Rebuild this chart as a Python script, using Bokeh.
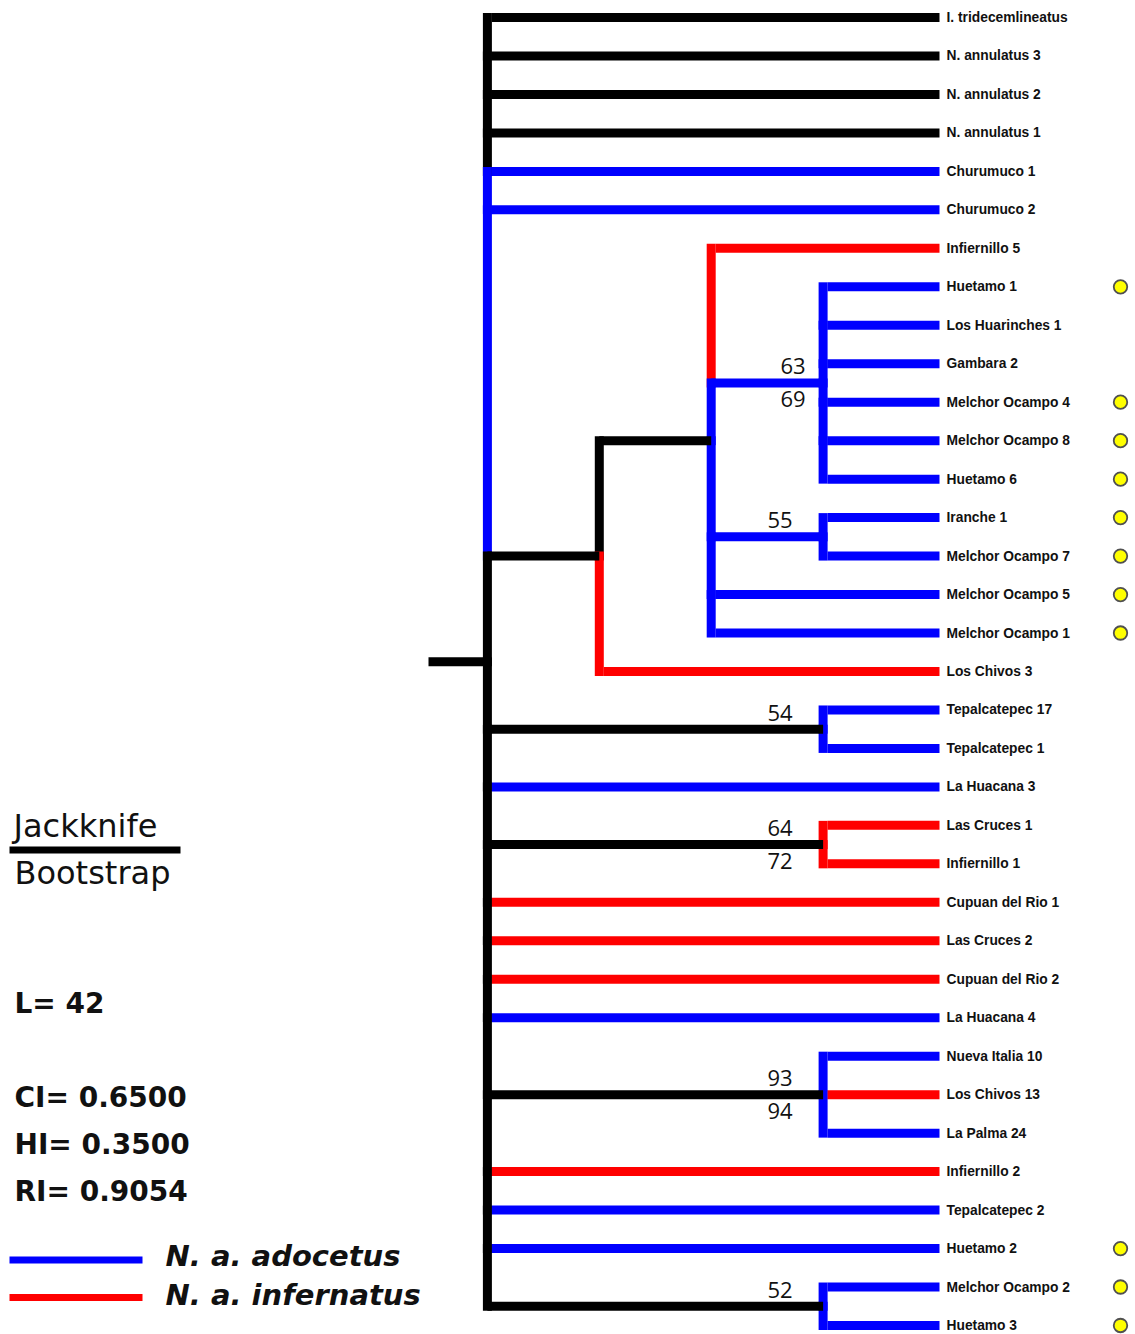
from bokeh.plotting import figure
from bokeh.models import ColumnDataSource, Range1d
from bokeh.core.properties import value
from bokeh.embed import file_html
from bokeh.resources import INLINE

# ---------------- data ----------------
leaf_names = [
    "I. tridecemlineatus", "N. annulatus 3", "N. annulatus 2", "N. annulatus 1",
    "Churumuco 1", "Churumuco 2", "Infiernillo 5", "Huetamo 1", "Los Huarinches 1",
    "Gambara 2", "Melchor Ocampo 4", "Melchor Ocampo 8", "Huetamo 6", "Iranche 1",
    "Melchor Ocampo 7", "Melchor Ocampo 5", "Melchor Ocampo 1", "Los Chivos 3",
    "Tepalcatepec 17", "Tepalcatepec 1", "La Huacana 3", "Las Cruces 1", "Infiernillo 1",
    "Cupuan del Rio 1", "Las Cruces 2", "Cupuan del Rio 2", "La Huacana 4",
    "Nueva Italia 10", "Los Chivos 13", "La Palma 24", "Infiernillo 2", "Tepalcatepec 2",
    "Huetamo 2", "Melchor Ocampo 2", "Huetamo 3",
]
# k = outgroup, b = N. a. adocetus, r = N. a. infernatus
leaf_groups = list("kkkk" "bb" "r" "bbbbbb" "bb" "bb" "r" "bb" "b" "rr" "rrr" "b" "b" "r" "b" "r" "bbb" "b")
marked_leaves = [7, 10, 11, 12, 13, 14, 15, 16, 32, 33, 34]

clades = {
    "root": [0, 1, 2, 3, 4, 5, "A", "E", 20, "F", 23, 24, 25, 26, "G", 30, 31, 32, "H"],
    "A": ["B", 17],
    "B": [6, "C", "D", 15, 16],
    "C": [7, 8, 9, 10, 11, 12],
    "D": [13, 14],
    "E": [18, 19],
    "F": [21, 22],
    "G": [27, 28, 29],
    "H": [33, 34],
}
stem_groups = {"A": "k", "B": "k", "C": "b", "D": "b", "E": "k", "F": "k", "G": "k", "H": "k"}
vertical_groups = {
    "root": list("kkkkbbkkkkkkkkkkkkk"),
    "A": list("kr"),
    "B": list("rbbbb"),
    "C": list("bbbbbb"),
    "D": list("bb"),
    "E": list("bb"),
    "F": list("rr"),
    "G": list("bbb"),
    "H": list("bb"),
}
jackknife = {"C": "63", "D": "55", "E": "54", "F": "64", "G": "93", "H": "52"}
bootstrap = {"C": "69", "F": "72", "G": "94"}

stats_labels = ["L= 42", "CI= 0.6500", "HI= 0.3500", "RI= 0.9054"]
legend_labels = ["N. a. adocetus", "N. a. infernatus"]
legend_groups = ["b", "r"]

# ---------------- style / layout ----------------
COLORS = {"k": "#000000", "b": "#0000FF", "r": "#FF0000"}
W, H = 1135, 1334
PX_X = 111.9          # pixels per tree level
LEAF_PX = 934.5       # page x of leaf tips
PX_Y = 38.47          # pixels per leaf
TOP_PX = 17           # page y of first leaf
LW = 9
HALF = LW / 2.0 / PX_X

def rx(px):
    return (px - LEAF_PX) / PX_X

def ry(py):
    return (py - TOP_PX) / PX_Y

def dy(px):
    return px / PX_Y

x_range = Range1d(rx(0), rx(W))
y_range = Range1d(start=ry(H), end=ry(0))

p = figure(width=W, height=H, x_range=x_range, y_range=y_range,
           output_backend="svg", toolbar_location=None,
           x_axis_location=None, y_axis_location=None, min_border=0)
p.grid.visible = False
p.outline_line_color = None
p.background_fill_color = "white"

# ---------------- tree layout ----------------
pos = {}

def layout(node):
    if isinstance(node, int):
        return float(node), 0
    res = [layout(c) for c in clades[node]]
    y = (res[0][0] + res[-1][0]) / 2.0
    h = 1 + max(r[1] for r in res)
    pos[node] = (y, h)
    return y, h

layout("root")

def child_info(c):
    if isinstance(c, int):
        return float(c), 0, leaf_groups[c]
    return pos[c][0], pos[c][1], stem_groups[c]

vseg = dict(x0=[], y0=[], x1=[], y1=[], c=[])
leaf_h = dict(x0=[], y0=[], x1=[], y1=[], c=[])
stem_h = dict(x0=[], y0=[], x1=[], y1=[], c=[])

def add(d, x0, y0, x1, y1, g):
    d["x0"].append(x0); d["y0"].append(y0); d["x1"].append(x1); d["y1"].append(y1)
    d["c"].append(COLORS[g])

for n, kids in clades.items():
    yn, hn = pos[n]
    xn = -hn
    infos = [child_info(c) for c in kids]
    for c, (yc, hc, g) in zip(kids, infos):
        if isinstance(c, int):
            add(leaf_h, xn + HALF, yc, HALF, yc, g)
        else:
            add(stem_h, xn, yc, -hc, yc, g)
    vg = vertical_groups[n]
    for i in range(len(kids) - 1):
        ya, yb = infos[i][0], infos[i + 1][0]
        if yb <= yn:
            add(vseg, xn, ya, xn, yb, vg[i])
        elif ya >= yn:
            add(vseg, xn, ya, xn, yb, vg[i + 1])
        else:
            add(vseg, xn, ya, xn, yn, vg[i])
            add(vseg, xn, yn, xn, yb, vg[i + 1])

# root stub
ry_root, rh_root = pos["root"]
add(stem_h, rx(428), ry_root, -rh_root, ry_root, "k")

p.segment("x0", "y0", "x1", "y1", source=ColumnDataSource(vseg), line_color="c",
          line_width=LW, line_cap="square")
p.segment("x0", "y0", "x1", "y1", source=ColumnDataSource(leaf_h), line_color="c",
          line_width=LW, line_cap="butt")
p.segment("x0", "y0", "x1", "y1", source=ColumnDataSource(stem_h), line_color="c",
          line_width=LW, line_cap="butt")

# leaf labels
p.text(x=[0.0] * len(leaf_names), y=[float(i) for i in range(len(leaf_names))], text=leaf_names,
       x_offset=11.5, text_font=value("Liberation Sans"), text_font_style="bold",
       text_font_size="13.8px", text_color="#111111", text_align="left", text_baseline="middle")

# yellow markers
p.scatter(x=[rx(1120)] * len(marked_leaves), y=[float(i) for i in marked_leaves], size=13.5,
          fill_color="#FFFF00", line_color="#505050", line_width=1.8)

# support values
lab_x, lab_y, lab_t = [], [], []
for n, t in jackknife.items():
    yn, hn = pos[n]
    off = 17.5 if n == "C" else 30.5
    lab_x.append(-hn - off / PX_X); lab_y.append(yn - dy(16.5)); lab_t.append(t)
for n, t in bootstrap.items():
    yn, hn = pos[n]
    off = 17.5 if n == "C" else 30.5
    lab_x.append(-hn - off / PX_X); lab_y.append(yn + dy(16)); lab_t.append(t)
p.text(x=lab_x, y=lab_y, text=lab_t, text_font=value("Open Sans"), text_font_size="22px",
       text_color="#111111", text_align="right", text_baseline="middle")

# left key: Jackknife / Bootstrap
p.text(x=[rx(13), rx(14)], y=[ry(825), ry(872.5)], text=["Jackknife", "Bootstrap"],
       text_font=value("DejaVu Sans"), text_font_size="32px", text_color="#111111",
       text_baseline="middle")
p.segment(x0=[rx(9)], y0=[ry(849.5)], x1=[rx(180)], y1=[ry(849.5)], line_color="black",
          line_width=7)

# statistics
p.text(x=[rx(14)] * 4, y=[ry(v) for v in (1003, 1097, 1144, 1191)], text=stats_labels,
       text_font=value("DejaVu Sans"), text_font_style="bold", text_font_size="28px",
       text_color="#111111", text_baseline="middle")

# colour legend
leg_y = [1259.5, 1297]
p.segment(x0=[rx(9)] * 2, y0=[ry(v) for v in leg_y], x1=[rx(142)] * 2,
          y1=[ry(v) for v in leg_y], line_color=[COLORS[g] for g in legend_groups], line_width=7)
p.text(x=[rx(165)] * 2, y=[ry(1255.5), ry(1294)], text=legend_labels,
       text_font=value("DejaVu Sans"), text_font_style="bold italic", text_font_size="29px",
       text_color="#111111", text_baseline="middle")

open("out.html", "w").write(file_html(p, INLINE))
